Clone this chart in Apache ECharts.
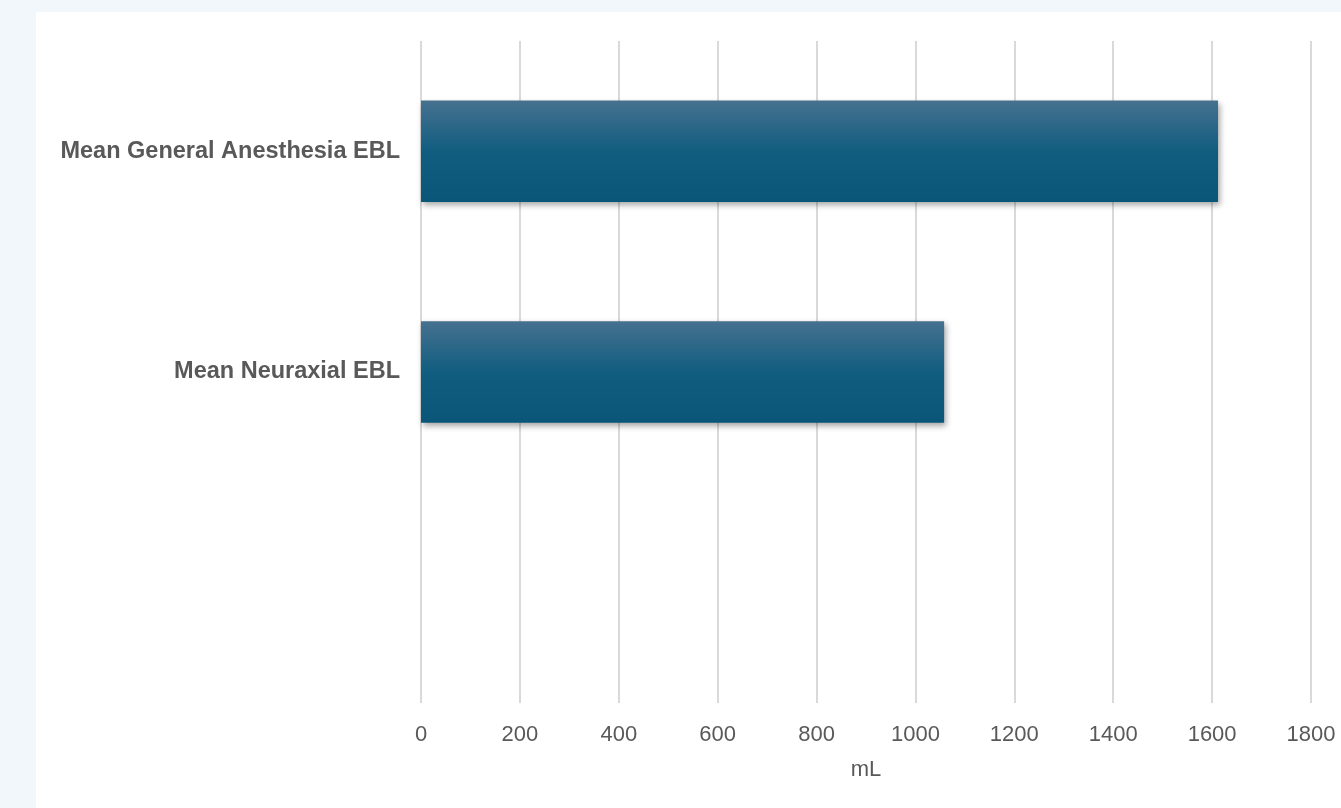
<!DOCTYPE html>
<html>
<head>
<meta charset="utf-8">
<script src="https://cdn.jsdelivr.net/npm/echarts@6/dist/echarts.min.js"></script>
<style>
html,body{margin:0;padding:0;width:1341px;height:808px;background:#f2f7fb;overflow:hidden;}
#chart{position:absolute;left:36px;top:12px;width:1305px;height:796px;background:#ffffff;}
</style>
</head>
<body>
<div id="chart"></div>
<script>
const categories = ['Mean General Anesthesia EBL', 'Mean Neuraxial EBL', ''];
const values = [1612, 1058, null];
const xTicks = [0, 200, 400, 600, 800, 1000, 1200, 1400, 1600, 1800];
const axisName = 'mL';

const chart = echarts.init(document.getElementById('chart'), null, {renderer: 'canvas'});
chart.setOption({
  animation: false,
  grid: {left: 385, right: 30, top: 29, bottom: 105, containLabel: false},
  xAxis: {
    type: 'value',
    min: xTicks[0],
    max: xTicks[xTicks.length - 1],
    interval: 200,
    name: axisName,
    nameLocation: 'middle',
    nameGap: 56,
    nameTextStyle: {color: '#595959', fontSize: 22, fontFamily: 'Liberation Sans'},
    axisLine: {show: false},
    axisTick: {show: false},
    axisLabel: {color: '#595959', fontSize: 22, fontFamily: 'Liberation Sans', margin: 21,
      formatter: function (v) { return String(v); }},
    splitLine: {show: true, lineStyle: {color: '#d9d9d9', width: 2}}
  },
  yAxis: {
    type: 'category',
    data: categories,
    inverse: true,
    axisLine: {show: false},
    axisTick: {show: false},
    splitLine: {show: false},
    axisLabel: {color: '#595959', fontSize: 23.5, fontWeight: 'bold', fontFamily: 'Liberation Sans', margin: 21}
  },
  series: [{
    type: 'bar',
    data: values,
    barWidth: '46%',
    itemStyle: {
      color: new echarts.graphic.LinearGradient(0, 0, 0, 1, [
        {offset: 0, color: '#46718f'},
        {offset: 0.5, color: '#115d80'},
        {offset: 1, color: '#0a5678'}
      ]),
      shadowColor: 'rgba(0,0,0,0.35)',
      shadowBlur: 6,
      shadowOffsetX: 2,
      shadowOffsetY: 3
    }
  }]
});
</script>
</body>
</html>
